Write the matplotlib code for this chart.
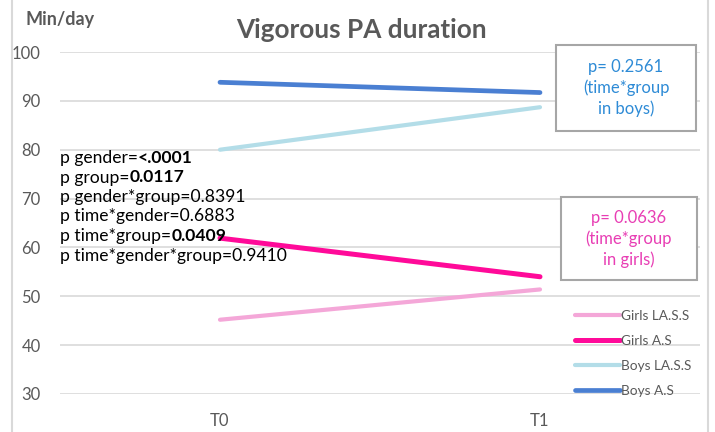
import matplotlib
matplotlib.use("Agg")
import matplotlib.pyplot as plt
from matplotlib.patches import Rectangle
from matplotlib.lines import Line2D

plt.rcParams['font.family'] = ['Lato', 'DejaVu Sans']

categories = ["T0", "T1"]
girls_lass = [45.2, 51.4]
girls_as = [61.9, 54.0]
boys_lass = [80.0, 88.7]
boys_as = [93.8, 91.7]
yticks = [30, 40, 50, 60, 70, 80, 90, 100]

stats_lines = [
    ("p gender=", "<.0001"),
    ("p group=", "0.0117"),
    ("p gender*group=0.8391", ""),
    ("p time*gender=0.6883", ""),
    ("p time*group=", "0.0409"),
    ("p time*gender*group=0.9410", ""),
]

GRAY = "#595959"
W, H = 715, 432
fig = plt.figure(figsize=(W / 100, H / 100), dpi=100)
ax = fig.add_axes([60 / W, 1 - 394 / H, 640 / W, 342 / H])

x = list(range(len(categories)))
l_gl, = ax.plot(x, girls_lass, color="#F4A7D8", lw=3.0, solid_capstyle="round", label="Girls LA.S.S")
l_ga, = ax.plot(x, girls_as, color="#FF0A99", lw=3.6, solid_capstyle="round", label="Girls A.S")
l_bl, = ax.plot(x, boys_lass, color="#B3DDE8", lw=3.0, solid_capstyle="round", label="Boys LA.S.S")
l_ba, = ax.plot(x, boys_as, color="#4A7FD2", lw=3.4, solid_capstyle="round", label="Boys A.S")

ax.set_xlim(-0.5, 1.5)
ax.set_ylim(30, 100)
ax.set_yticks(yticks)
ax.set_xticks(x)
ax.set_xticklabels(categories)
ax.grid(axis="y", color="#D9D9D9", lw=1.2)
ax.set_axisbelow(True)
for s in ax.spines.values():
    s.set_visible(False)
ax.tick_params(axis="y", length=0, pad=14, labelsize=12, labelcolor=GRAY)
ax.tick_params(axis="x", length=0, pad=14, labelsize=12, labelcolor=GRAY)

# frame lines of the chart area
fig.add_artist(Line2D([12 / W, 12 / W], [0, 1], transform=fig.transFigure, color="#D9D9D9", lw=1.5))
fig.add_artist(Line2D([708 / W, 708 / W], [0, 1], transform=fig.transFigure, color="#D9D9D9", lw=1.5))

fig.text(361 / W, 1 - 30 / H, "Vigorous PA duration", ha="center", va="center",
         fontsize=18.8, fontweight="bold", color=GRAY)
fig.text(25 / W, 1 - 19 / H, "Min/day", ha="left", va="center",
         fontsize=13, fontweight="bold", color=GRAY)

# stats text block
renderer = fig.canvas.get_renderer()
y0 = 158
for i, (norm, bold) in enumerate(stats_lines):
    yy = 1 - (y0 + i * 19.5) / H
    t = fig.text(60 / W, yy, norm, ha="left", va="center", fontsize=12.6, color="black")
    if bold:
        bb = t.get_window_extent(renderer)
        fig.text(bb.x1 / W, yy, bold, ha="left", va="center", fontsize=12.6,
                 fontweight="bold", color="black")

# annotation boxes
fig.add_artist(Rectangle((556 / W, 1 - 131 / H), 140 / W, 86 / H, transform=fig.transFigure,
                         facecolor="white", edgecolor="#A6A6A6", lw=1.5))
fig.text(626 / W, 1 - 88 / H, "p= 0.2561\n(time*group\nin boys)", ha="center", va="center",
         fontsize=12, color="#2E8BD6", linespacing=1.35)
fig.add_artist(Rectangle((561 / W, 1 - 280 / H), 136 / W, 83 / H, transform=fig.transFigure,
                         facecolor="white", edgecolor="#A6A6A6", lw=1.5))
fig.text(629 / W, 1 - 239 / H, "p= 0.0636\n(time*group\nin girls)", ha="center", va="center",
         fontsize=12, color="#E83EB4", linespacing=1.35)

leg = ax.legend(handles=[l_gl, l_ga, l_bl, l_ba], loc="center left",
                bbox_to_anchor=(575 / W, 1 - 353.5 / H), bbox_transform=fig.transFigure,
                frameon=False, fontsize=9.8, labelcolor=GRAY, handlelength=3.3,
                handletextpad=0.1, labelspacing=0.95, borderpad=0, borderaxespad=0)

fig.savefig("out.png", dpi=100)
